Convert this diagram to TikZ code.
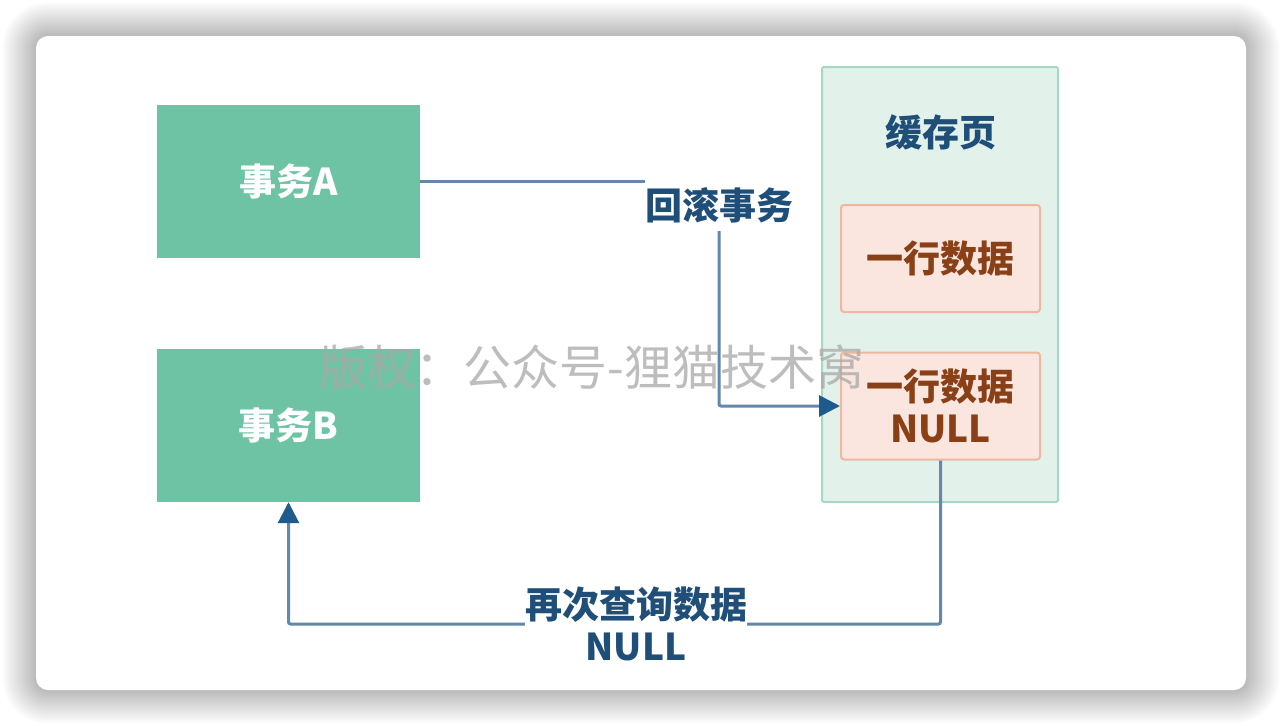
\documentclass[tikz,border=0pt]{standalone}
\usepackage{fontspec}
\newfontfamily\cjk{Noto Sans CJK SC}
\usetikzlibrary{arrows.meta}
\definecolor{boxgreen}{HTML}{6FC3A5}
\definecolor{pagefill}{HTML}{E2F2EA}
\definecolor{pageline}{HTML}{A6D8C3}
\definecolor{rowfill}{HTML}{FBE6DF}
\definecolor{rowline}{HTML}{EFB79F}
\definecolor{rowtext}{HTML}{8A4017}
\definecolor{bluetext}{HTML}{1F4E78}
\definecolor{linkline}{HTML}{6388AA}
\definecolor{tipblue}{HTML}{1F5A8C}
\definecolor{wm}{HTML}{A8A8A8}
\tikzset{
  lbl/.style={font=\cjk\bfseries\fontsize{37}{46}\selectfont},
  txbox/.style={lbl, fill=boxgreen, text=white, minimum width=263pt, minimum height=153pt, inner sep=0pt},
  rowbox/.style={lbl, fill=rowfill, draw=rowline, line width=2pt, rounded corners=3pt, text=rowtext,
     minimum width=199pt, minimum height=107pt, inner sep=0pt, align=center},
  conn/.style={draw=linkline, line width=3pt, rounded corners=2pt},
  tip/.style={-{Triangle[length=21pt,width=21pt,fill=tipblue,color=tipblue]}},
  bluelbl/.style={lbl, text=bluetext, inner sep=0pt, align=center},
  shadowring/.style={fill=black, fill opacity=0.0065}
}
\begin{document}
\begin{tikzpicture}[x=1pt,y=-1pt]
\useasboundingbox (0,0) rectangle (1282,726);
\fill[white] (0,0) rectangle (1282,726);
% soft shadow
\foreach \d in {34,33,...,1}{
  \fill[shadowring, rounded corners=12pt+\d pt] (36-\d,36-\d) rectangle (1246+\d,690+\d);
}
\fill[white, rounded corners=12pt] (36,36) rectangle (1246,690);
% cache page container
\node[draw=pageline, fill=pagefill, line width=2pt, rounded corners=2pt, minimum width=236pt, minimum height=435pt, inner sep=0pt] (page) at (940,284.5) {};
\node[bluelbl] (pagelbl) at (941,132) {缓存页};
\node[rowbox] (row1) at (940.5,258.5) {一行数据};
\node[rowbox] (row2) at (940.5,406) {一行数据\\[-4pt]NULL};
% transactions
\node[txbox] (A) at (288.5,181.5) {事务A};
\node[txbox] (B) at (288.5,425.5) {事务B};
% labels
\node[bluelbl] (rb) at (719,205) {回滚事务};
\node[bluelbl] (q) at (636,624) {再次查询数据\\[-4pt]NULL};
% connectors
\draw[conn] (A.east) -- (A.east -| rb.west);
\coordinate (rbs) at ([yshift=-8pt]rb.south);
\draw[conn, tip] (rbs) |- (row2.west);
\draw[conn] (row2.south) |- (q.east);
\draw[conn, tip] (q.west) -| (B.south);
% watermark
\node[font=\cjk\fontsize{48}{52}\selectfont, text=wm, opacity=0.75, inner sep=0pt] (wmk) at (592,367) {版权：公众号-狸猫技术窝};
\end{tikzpicture}
\end{document}
